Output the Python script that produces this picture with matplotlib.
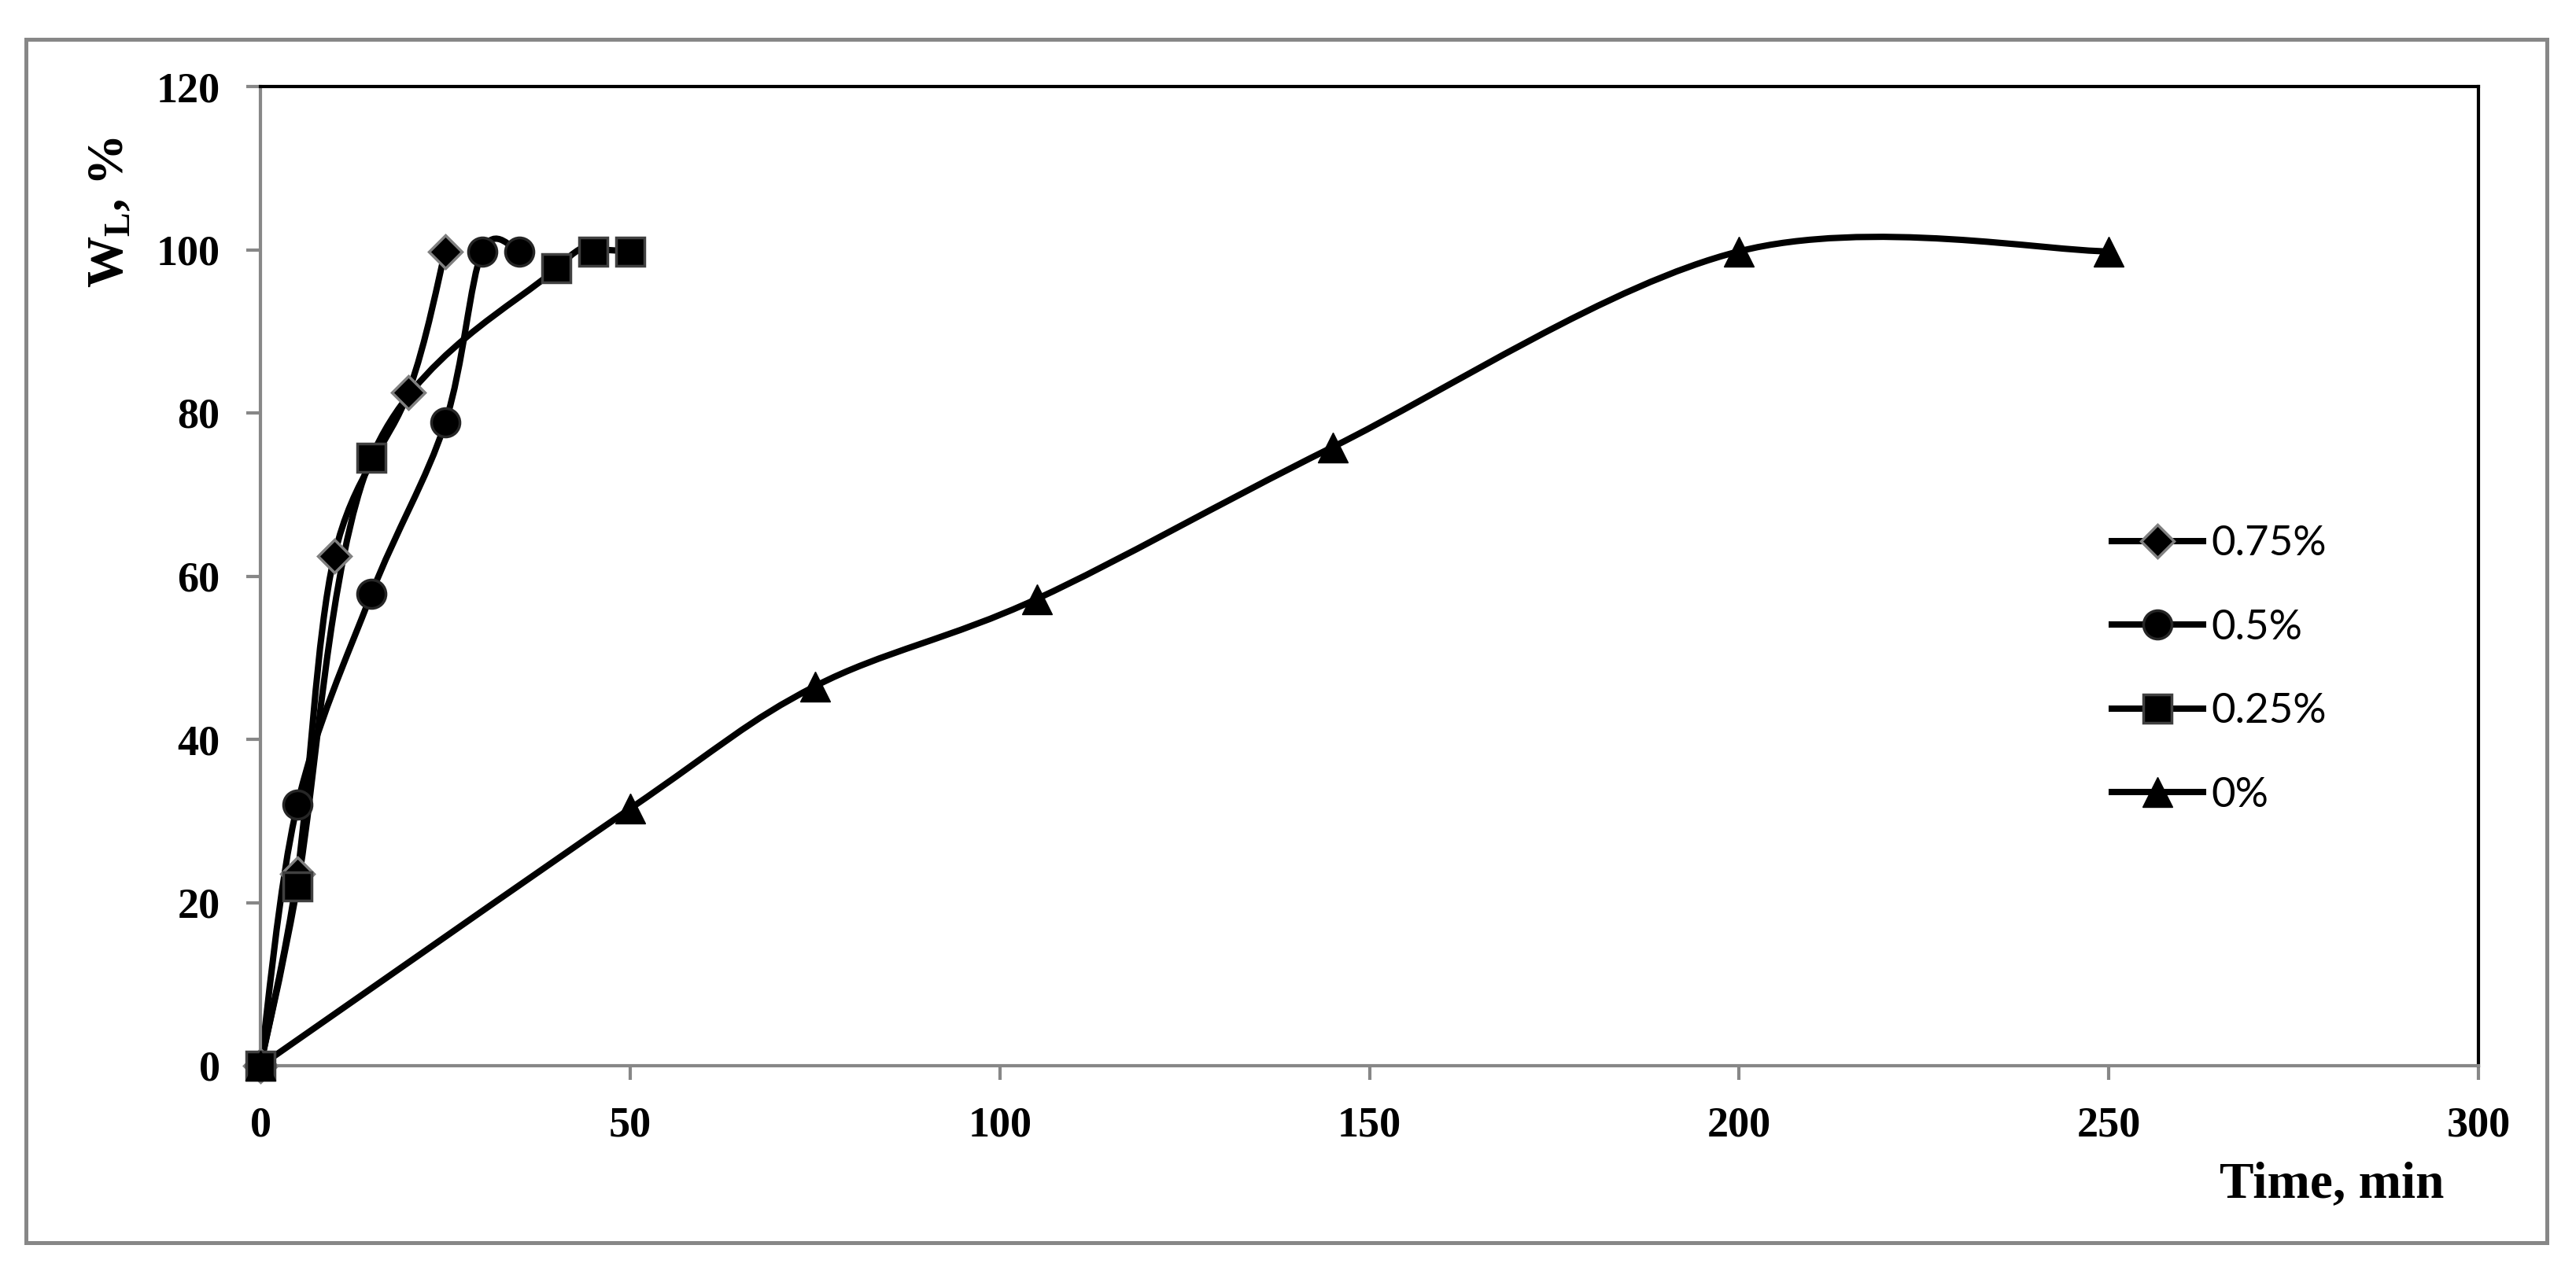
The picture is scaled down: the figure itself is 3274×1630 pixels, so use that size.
import matplotlib
matplotlib.use('Agg')
import matplotlib.pyplot as plt
from matplotlib.path import Path
from matplotlib.patches import PathPatch, Rectangle
from matplotlib.lines import Line2D
import numpy as np

# values (time in min, WL in %)
time_075 = [0, 5, 10, 20, 25]
wl_075 = [0, 23.5, 62.5, 82.5, 99.8]
time_05 = [0, 5, 15, 25, 30, 35]
wl_05 = [0, 32.0, 57.8, 78.8, 99.8, 99.8]
time_025 = [0, 5, 15, 40, 45, 50]
wl_025 = [0, 22.0, 74.5, 97.7, 99.8, 99.8]
time_0 = [0, 50, 75, 105, 145, 200, 250]
wl_0 = [0, 31.5, 46.5, 57.2, 75.8, 99.8, 99.8]
labels = ['0.75%', '0.5%', '0.25%', '0%']
xticks = [0, 50, 100, 150, 200, 250, 300]
yticks = [0, 20, 40, 60, 80, 100, 120]

plt.rcParams['mathtext.fontset'] = 'custom'
plt.rcParams['mathtext.rm'] = 'Liberation Serif:bold'
plt.rcParams['mathtext.bf'] = 'Liberation Serif:bold'
plt.rcParams['mathtext.it'] = 'Liberation Serif:bold'

W, H = 3274, 1630
def fx(px):
    return px / W
def fy(py):
    return 1 - py / H

# excel-like smoothed line: catmull-rom segments as cubic beziers
def smooth_path(x, y):
    p = np.column_stack([x, y]).astype(float)
    n = len(p)
    verts = [p[0]]
    codes = [Path.MOVETO]
    for i in range(n - 1):
        p0 = p[max(i - 1, 0)]
        p1 = p[i]
        p2 = p[i + 1]
        p3 = p[min(i + 2, n - 1)]
        verts += [p1 + (p2 - p0) / 6, p2 - (p3 - p1) / 6, p2]
        codes += [Path.CURVE4] * 3
    return Path(verts, codes)

gray = '#878787'
lw = 5.8
styles = [dict(marker='D', mfc='black', mec='#808080', ms=21, mew=2.5),
          dict(marker='o', mfc='black', mec='#262626', ms=26, mew=2.5),
          dict(marker='s', mfc='black', mec='#404040', ms=26, mew=2.5),
          dict(marker='^', mfc='black', mec='black', ms=28, mew=1)]
series = [(time_075, wl_075), (time_05, wl_05), (time_025, wl_025), (time_0, wl_0)]

fig = plt.figure(figsize=(W / 100, H / 100), dpi=100)
ax = fig.add_axes([fx(331), fy(1355), (3150 - 331) / W, (1355 - 110) / H])

for (x, y), st in zip(series, styles):
    ax.add_patch(PathPatch(smooth_path(x, y), fill=False, ec='black', lw=lw,
                           capstyle='round', joinstyle='round', clip_on=False))
    ax.plot(x, y, ls='none', clip_on=False, zorder=3, **st)

ax.set_xlim(0, 300)
ax.set_ylim(0, 120)
ax.set_xticks(xticks)
ax.set_yticks(yticks)
for s in ['top', 'right']:
    ax.spines[s].set_color('black')
    ax.spines[s].set_linewidth(3)
for s in ['left', 'bottom']:
    ax.spines[s].set_color(gray)
    ax.spines[s].set_linewidth(3)
ax.tick_params(direction='out', length=13, width=3, color=gray, pad=24,
               labelsize=39)
for t in ax.get_xticklabels() + ax.get_yticklabels():
    t.set_family('Liberation Serif')
    t.set_fontweight('bold')

fig.text(fx(140), fy(270), r'$\mathbf{W_L}$, %', rotation=90, ha='center',
         va='center', fontsize=47, fontweight='bold', family='Liberation Serif')
fig.text(fx(3106), fy(1522), 'Time, min', ha='right', va='baseline',
         fontsize=47, fontweight='bold', family='Liberation Serif')

handles = [Line2D([], [], color='black', lw=lw, **st) for st in styles]
fig.legend(handles, labels, loc='upper left', bbox_to_anchor=(fx(2684), fy(668)),
           frameon=False, prop={'family': 'Lato', 'size': 38}, handlelength=2.2,
           handletextpad=0.2, labelspacing=1.13, borderpad=0, borderaxespad=0)

# outer chart frame
fig.patches.append(Rectangle((fx(33), fy(1580)), (3237 - 33) / W, (1580 - 50) / H,
                             transform=fig.transFigure, fill=False, ec=gray, lw=3.6))

fig.savefig('out.png', dpi=100)
